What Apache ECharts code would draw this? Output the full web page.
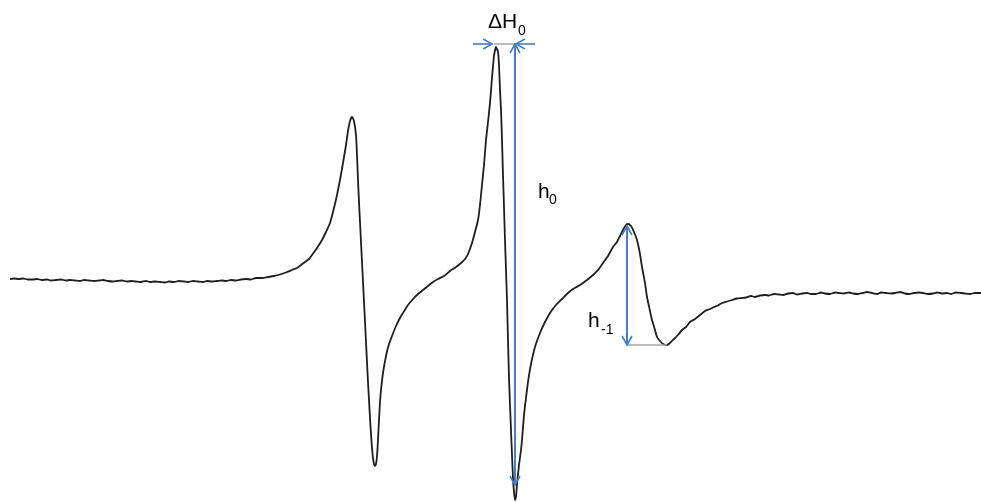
<!DOCTYPE html>
<html>
<head>
<meta charset="utf-8">
<script src="https://cdn.jsdelivr.net/npm/echarts@6/dist/echarts.min.js"></script>
<style>
html,body{margin:0;padding:0;background:#fff;}
#chart{width:981px;height:502px;}
</style>
</head>
<body>
<div id="chart"></div>
<script>
// EPR first-derivative spectrum: [field (arb. units), signal (arb. units)]
const baselineLow = [[10,1],[14,1.5],[19,1],[23,1.5],[28,0.5],[33,0.5],[37,1],[42,0],[47,0.5],[51,-0.5],
  [56,0],[61,0.5],[66,-0.5],[70,0],[75,-0.5],[80,-1],[84,0],[89,-0.5],[94,-1],[99,-0.5],
  [103,0],[108,-1],[113,-1.5],[117,-1],[122,-0.5],[127,-1.5],[132,-1],[136,-1.5],[141,-2],[146,-1],
  [150,-2],[155,-1.5],[160,-2],[165,-2.5],[169,-1.5],[174,-2],[179,-1],[184,-1.5],[188,-2],[193,-1],
  [198,-1.5],[203,-2],[207,-1],[212,-1.5],[217,-1],[222,-0.5],[226,-1],[231,0],[236,-0.5],[241,0.5],
  [246,1],[251,0.5],[256,2],[262,2],[268,3],[274,4],[280,5.5],[286,7.5],[292,10],[297,12]];
const lineLowField = [[301,15],[305,18],[309,21],[312,25],[317,32],[322,40],[326,48],[330,57],[334,72],[337,85],
  [340,100],[343,117],[346,135],[348,149],[350,159],[352,163],[354,159],[356,145],[357,125],[358,100],
  [359,78],[360,58],[361,38],[362,18],[363,-2],[364,-22],[365,-42],[366,-62],[367,-82],[368,-102],
  [369,-120],[370,-138],[371,-154],[372,-168],[373,-178],[374,-184],[375,-186],[376,-184],[377,-176],[378,-160],
  [379,-140],[380,-122],[381,-110],[383,-93],[386,-76],[389,-64],[392,-56],[396,-46],[400,-38],[403,-33],
  [408,-25],[413,-19],[418,-14],[423,-10],[428,-6],[433,-2],[438,1],[444,4]];
const lineCentral = [[450,9],[456,13],[461,17],[465,21],[468,26],[472,37],[475,48],[478,60],[480,75],[482,95],
  [484,115],[486,140],[488,158],[490,177],[492,202],[494,224],[496,233],[498,228],[499,215],[500,190],
  [501,170],[502,140],[503,105],[504,73],[505,40],[506,10],[507,-20],[508,-60],[509,-98],[510,-125],
  [511,-150],[512,-175],[513,-198],[514,-212],[515,-220],[516,-217],[517,-204],[519,-185],[521,-170],[522,-160],
  [524,-135],[526,-118],[528,-102],[531,-84],[535,-67],[540,-53],[545,-42],[550,-33],[556,-25],[562,-19],
  [568,-13],[573,-9],[580,-5]];
const lineHighField = [[587,0],[593,5],[598,10],[603,17],[608,24],[613,33],[617,38],[620,44],[623,50],[626,55],
  [628,56],[631,54],[634,48],[637,40],[640,26],[642,13],[645,-3],[647,-17],[650,-31],[652,-40],
  [655,-50],[657,-57],[660,-61],[663,-64],[667,-65],[670,-63],[674,-59],[678,-55],[682,-50],[686,-47],
  [690,-42],[695,-39],[700,-35],[705,-31],[710,-29],[714,-27],[718,-25.5],[722,-23],[727,-21.5],[732,-20]];
const baselineHigh = [[737,-18.5],[742,-18],[746,-17.5],[751,-16],[755,-17],[760,-15.5],[765,-15],[769,-15.5],[774,-14],
  [779,-14.5],[783,-15],[788,-13.5],[793,-13],[797,-14.5],[802,-13.5],[807,-13],[811,-14],[816,-14],[821,-12.5],
  [825,-13.5],[830,-14],[835,-12.5],[839,-13],[844,-13.5],[849,-12.5],[853,-13.5],[858,-14],[863,-13],[867,-12],
  [872,-13],[877,-14],[881,-12.5],[886,-13],[891,-13.5],[895,-13],[900,-12],[905,-13.5],[909,-14],[914,-13],
  [919,-12.5],[923,-13],[928,-14],[933,-13.5],[937,-12.5],[942,-13.5],[947,-13],[951,-14],[956,-12.5],[961,-13],
  [965,-13.5],[970,-14],[975,-13],[981,-13]];

// Annotation anchors (data units)
const h0Line = [515, 236, -205];       // field, top, bottom
const hm1Line = [627, 54, -65];        // field, top (peak), bottom (trough level)
const hm1Base = [627, 667, -65];       // from, to, level
const dH0Base = [494, 515, 236];       // from, to, level
const dH0LeftArrow = [473, 492];       // tail, tip
const dH0RightArrow = [535, 516];      // tail, tip
const labels = [
  {text: 'ΔH', sub: '0', x: 488, y: 247, sx: 518, sy: 242},
  {text: 'h', sub: '0', x: 538, y: 77, sx: 549, sy: 73},
  {text: 'h', sub: '-1', x: 588, y: -52, sx: 601, sy: -57}
];

const seriesData = [].concat(baselineLow, lineLowField, lineCentral, lineHighField, baselineHigh);

const BLUE = '#4a7ebb';
const GRAY = '#a6a6a6';
const FONT = '"Liberation Sans", Arial, sans-serif';

function renderAnn(params, api) {
  const c = (x, y) => api.coord([x, y]);
  const kids = [];
  const seg = (p, q, color, w) => kids.push({type: 'line', shape: {x1: p[0], y1: p[1], x2: q[0], y2: q[1]}, style: {stroke: color, lineWidth: w}});
  const head = (tip, dx, dy) => {
    const L = 9, W = 5;
    const bx = tip[0] - dx * L, by = tip[1] - dy * L;
    const px = -dy, py = dx;
    kids.push({type: 'polyline', shape: {points: [[bx + px * W, by + py * W], tip, [bx - px * W, by - py * W]]}, style: {stroke: BLUE, lineWidth: 1.6, fill: null}});
  };
  seg(c(dH0Base[0], dH0Base[2]), c(dH0Base[1], dH0Base[2]), GRAY, 1.5);
  seg(c(hm1Base[0], hm1Base[2]), c(hm1Base[1], hm1Base[2]), GRAY, 1.5);
  const a = c(h0Line[0], h0Line[1]), b = c(h0Line[0], h0Line[2]);
  seg(a, b, BLUE, 2);
  head(a, 0, -1); head(b, 0, 1);
  const a2 = c(hm1Line[0], hm1Line[1]), b2 = c(hm1Line[0], hm1Line[2]);
  seg(a2, b2, BLUE, 2);
  head(a2, 0, -1); head(b2, 0, 1);
  const l1 = c(dH0LeftArrow[0], dH0Base[2]), l2 = c(dH0LeftArrow[1], dH0Base[2]);
  seg(l1, l2, BLUE, 1.6); head(l2, 1, 0);
  const r1 = c(dH0RightArrow[0], dH0Base[2]), r2 = c(dH0RightArrow[1], dH0Base[2]);
  seg(r1, r2, BLUE, 1.6); head(r2, -1, 0);
  labels.forEach(L => {
    const p = c(L.x, L.y), s = c(L.sx, L.sy);
    kids.push({type: 'text', x: p[0], y: p[1], style: {text: L.text, font: '21px ' + FONT, fill: '#000', align: 'left', verticalAlign: 'bottom'}});
    kids.push({type: 'text', x: s[0], y: s[1], style: {text: L.sub, font: '14px ' + FONT, fill: '#000', align: 'left', verticalAlign: 'bottom'}});
  });
  return {type: 'group', children: kids};
}

const chart = echarts.init(document.getElementById('chart'), null, {renderer: 'canvas'});
chart.setOption({
  animation: false,
  backgroundColor: '#ffffff',
  grid: {left: 0, right: 0, top: 0, bottom: 0},
  xAxis: {type: 'value', min: 0, max: 981, show: false},
  yAxis: {type: 'value', min: -222, max: 280, show: false},
  series: [
    {
      type: 'line',
      data: seriesData,
      showSymbol: false,
      smooth: 0.2,
      lineStyle: {color: '#1e1e1e', width: 1.8},
      z: 2
    },
    {
      type: 'custom',
      data: [[0, 0]],
      renderItem: renderAnn,
      silent: true,
      clip: false,
      z: 3
    }
  ]
});
</script>
</body>
</html>
